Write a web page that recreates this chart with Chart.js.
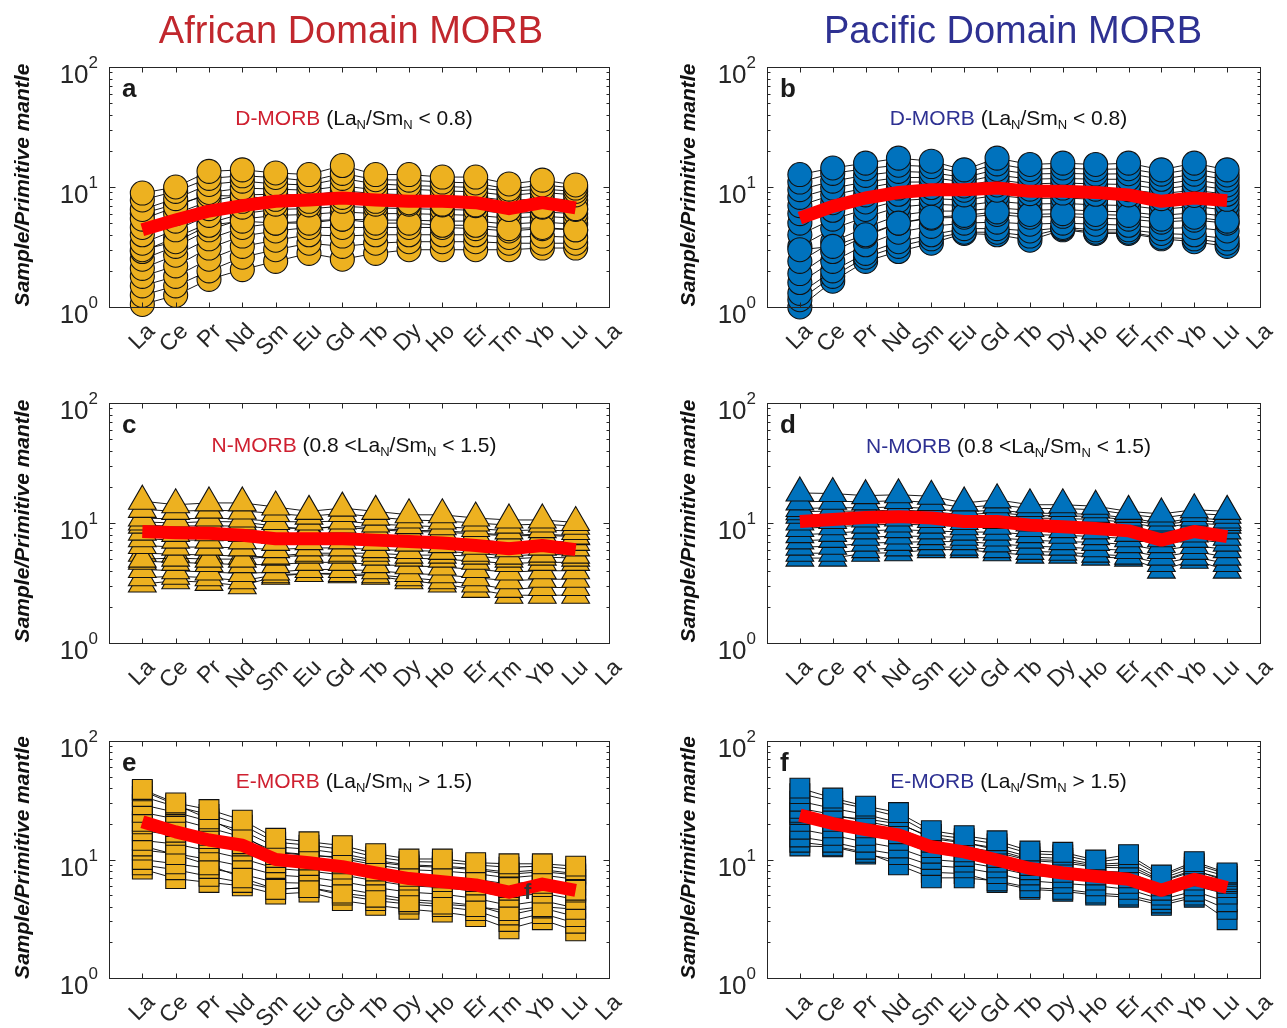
<!DOCTYPE html>
<html>
<head>
<meta charset="utf-8">
<script src="https://cdn.jsdelivr.net/npm/chart.js@4.4.1/dist/chart.umd.min.js"></script>
<style>
  body { margin: 0; background: #fff; }
  canvas { position: absolute; }
</style>
</head>
<body>
<canvas id="pa" width="640" height="380" style="left:0;top:0"></canvas>
<canvas id="pb" width="647" height="380" style="left:640px;top:0"></canvas>
<canvas id="pc" width="640" height="340" style="left:0;top:380px"></canvas>
<canvas id="pd" width="647" height="340" style="left:640px;top:380px"></canvas>
<canvas id="pe" width="640" height="308" style="left:0;top:720px"></canvas>
<canvas id="pf" width="647" height="308" style="left:640px;top:720px"></canvas>
<script>
// REE order, plus the repeated La at the right edge of each axis
const elements = ['La', 'Ce', 'Pr', 'Nd', 'Sm', 'Eu', 'Gd', 'Tb', 'Dy', 'Ho', 'Er', 'Tm', 'Yb', 'Lu'];
const xTickLabels = ['La', 'Ce', 'Pr', 'Nd', 'Sm', 'Eu', 'Gd', 'Tb', 'Dy', 'Ho', 'Er', 'Tm', 'Yb', 'Lu', 'La'];
const yTicks = [1, 10, 100];
const yTickExponents = ['0', '1', '2'];
const yMinorTicks = [2, 3, 4, 5, 6, 7, 8, 9, 20, 30, 40, 50, 60, 70, 80, 90];

// averages (red lines)
const africaDMean = [4.4, 5.3, 6.3, 7.0, 7.6, 7.8, 8.1, 7.8, 7.6, 7.6, 7.4, 6.6, 7.4, 6.7];
const pacificDMean = [5.5, 6.9, 8.1, 9.0, 9.5, 9.5, 9.8, 9.2, 9.2, 9.0, 8.6, 7.6, 8.1, 7.7];
const africaNMean = [8.5, 8.3, 8.2, 7.9, 7.4, 7.4, 7.4, 7.2, 7.0, 6.8, 6.5, 6.1, 6.5, 6.0];
const pacificNMean = [10.3, 10.7, 11.1, 11.3, 11.0, 10.3, 10.3, 9.6, 9.3, 9.0, 8.6, 7.2, 8.5, 7.7];
const africaEMean = [20.8, 17.1, 14.6, 13.2, 10.0, 9.4, 8.7, 7.7, 6.9, 6.5, 6.1, 5.3, 6.2, 5.5];
const pacificEMean = [23.7, 20.1, 17.9, 16.1, 12.8, 11.6, 9.9, 8.4, 7.7, 7.2, 6.8, 5.5, 6.8, 5.8];

// individual samples
const africaDSamples = [
  [8.9, 10.0, 13.5, 13.9, 13.1, 12.7, 15.1, 12.7, 12.7, 12.1, 12.1, 10.6, 11.4, 10.4],
  [7.8, 9.2, 11.8, 12.4, 12.0, 11.2, 13.0, 11.5, 11.4, 11.0, 10.8, 9.6, 10.4, 9.8],
  [6.5, 8.0, 10.5, 11.2, 10.6, 10.4, 11.8, 10.6, 10.3, 10.1, 9.9, 9.2, 9.6, 9.2],
  [5.4, 6.8, 9.0, 9.8, 9.6, 9.4, 10.2, 9.5, 9.6, 9.3, 9.1, 8.5, 9.0, 8.6],
  [6.0, 7.2, 8.5, 8.4, 7.9, 7.6, 8.2, 7.6, 7.4, 7.2, 7.1, 6.5, 6.9, 6.6],
  [4.6, 6.0, 7.6, 8.6, 8.7, 8.5, 9.3, 8.8, 8.6, 8.4, 8.3, 7.7, 8.0, 7.8],
  [4.0, 5.2, 6.6, 7.6, 8.0, 7.9, 8.4, 8.0, 7.9, 7.8, 7.6, 7.0, 7.4, 7.1],
  [3.4, 4.4, 5.8, 6.8, 7.2, 7.1, 7.6, 7.2, 7.2, 7.1, 7.0, 6.5, 6.8, 6.5],
  [3.0, 3.5, 4.8, 5.2, 5.0, 5.0, 5.4, 5.0, 5.0, 4.8, 4.8, 4.5, 4.6, 4.4],
  [2.9, 3.8, 5.0, 6.0, 6.5, 6.6, 6.9, 6.7, 6.6, 6.5, 6.4, 6.0, 6.2, 6.0],
  [2.5, 3.2, 4.4, 5.4, 5.8, 5.9, 6.2, 6.0, 6.0, 5.9, 5.8, 5.5, 5.7, 5.5],
  [2.1, 2.7, 3.7, 4.6, 5.0, 5.2, 5.4, 5.3, 5.3, 5.2, 5.2, 4.9, 5.1, 4.9],
  [1.8, 2.2, 3.1, 3.9, 4.3, 4.6, 4.6, 4.6, 4.6, 4.6, 4.5, 4.3, 4.5, 4.4],
  [1.5, 1.8, 2.5, 3.2, 3.6, 4.0, 3.9, 4.0, 4.0, 4.0, 4.0, 3.8, 3.9, 3.8],
  [1.25, 1.5, 2.0, 2.6, 3.0, 3.4, 3.2, 3.4, 3.5, 3.5, 3.5, 3.4, 3.4, 3.4],
  [1.05, 1.25, 1.7, 2.05, 2.4, 2.8, 2.5, 2.8, 3.0, 3.0, 3.0, 3.0, 3.1, 3.1]
];
const pacificDSamples = [
  [12.7, 14.4, 15.8, 17.4, 16.4, 13.9, 17.4, 15.4, 15.8, 15.4, 15.8, 13.9, 15.8, 13.9],
  [11.0, 13.0, 14.2, 15.2, 14.8, 13.0, 15.6, 14.0, 14.4, 14.0, 14.2, 12.8, 14.2, 12.6],
  [9.5, 11.2, 12.5, 13.5, 13.2, 12.0, 14.0, 12.8, 13.0, 12.8, 12.9, 11.6, 12.8, 11.5],
  [8.2, 9.8, 11.0, 12.0, 12.0, 11.0, 12.6, 11.6, 11.8, 11.6, 11.6, 10.5, 11.5, 10.4],
  [7.0, 8.6, 9.8, 11.0, 11.0, 10.2, 11.5, 10.6, 10.8, 10.6, 10.5, 9.6, 10.4, 9.5],
  [6.0, 7.4, 8.6, 9.8, 9.9, 9.4, 10.4, 9.6, 9.8, 9.6, 9.5, 8.8, 9.4, 8.7],
  [5.0, 6.4, 7.5, 8.7, 8.9, 8.6, 9.4, 8.8, 8.9, 8.7, 8.6, 8.0, 8.5, 7.9],
  [3.0, 3.2, 4.0, 5.0, 5.6, 5.8, 6.2, 5.9, 6.0, 5.9, 5.8, 5.4, 5.6, 5.2],
  [4.0, 5.4, 6.5, 7.7, 8.0, 7.8, 8.5, 8.0, 8.1, 7.9, 7.8, 7.3, 7.7, 7.1],
  [3.2, 4.5, 5.6, 6.8, 7.2, 7.0, 7.6, 7.2, 7.3, 7.1, 7.0, 6.5, 6.9, 6.4],
  [2.4, 3.5, 4.6, 5.8, 6.3, 6.3, 6.7, 6.4, 6.5, 6.3, 6.2, 5.8, 6.1, 5.7],
  [1.9, 2.9, 3.9, 5.0, 5.5, 5.6, 5.9, 5.6, 5.7, 5.5, 5.4, 5.1, 5.3, 5.0],
  [1.6, 2.4, 3.3, 4.2, 4.7, 5.0, 5.1, 4.9, 5.0, 4.9, 4.8, 4.5, 4.6, 4.3],
  [1.3, 2.0, 2.8, 3.5, 4.0, 4.5, 4.5, 4.3, 4.6, 4.4, 4.4, 4.1, 4.0, 3.7],
  [1.15, 1.8, 2.6, 3.2, 3.7, 4.2, 4.2, 3.9, 4.5, 4.2, 4.2, 3.8, 3.7, 3.4],
  [1.0, 1.64, 2.4, 2.9, 3.4, 4.1, 4.0, 3.6, 4.4, 4.1, 4.1, 3.7, 3.5, 3.2]
];
const africaNSamples = [
  [15.2, 14.2, 14.7, 14.7, 13.6, 12.5, 13.3, 12.5, 11.7, 11.7, 11.0, 10.6, 10.6, 10.1],
  [13.0, 12.5, 12.8, 12.6, 12.0, 11.4, 12.0, 11.2, 10.6, 10.4, 10.0, 9.6, 9.8, 9.4],
  [11.0, 10.8, 11.0, 10.8, 10.3, 10.2, 10.4, 9.8, 9.5, 9.3, 9.0, 8.6, 8.8, 8.5],
  [10.2, 10.0, 10.3, 10.2, 9.4, 8.8, 9.6, 9.0, 8.7, 8.6, 8.3, 7.9, 8.1, 7.8],
  [9.6, 9.4, 9.5, 9.4, 9.0, 9.1, 9.2, 8.8, 8.5, 8.4, 8.1, 7.8, 7.9, 7.7],
  [8.4, 8.2, 8.3, 8.2, 7.9, 8.0, 8.1, 7.8, 7.6, 7.5, 7.2, 6.9, 7.1, 6.9],
  [7.4, 7.2, 7.2, 7.1, 6.9, 7.0, 7.1, 6.9, 6.8, 6.6, 6.4, 6.1, 6.3, 6.2],
  [6.5, 6.3, 6.3, 6.2, 6.0, 6.2, 6.2, 6.0, 5.9, 5.8, 5.6, 5.3, 5.5, 5.4],
  [5.0, 5.1, 5.0, 5.0, 5.3, 5.6, 5.6, 5.6, 5.4, 5.4, 5.3, 5.0, 5.2, 5.1],
  [5.6, 5.5, 5.4, 5.3, 5.2, 5.4, 5.4, 5.2, 5.1, 5.0, 4.8, 4.6, 4.7, 4.7],
  [4.8, 4.7, 4.6, 4.5, 4.5, 4.7, 4.7, 4.5, 4.4, 4.3, 4.1, 3.9, 4.0, 4.0],
  [4.1, 4.0, 3.9, 3.8, 3.9, 4.1, 4.1, 4.0, 3.8, 3.7, 3.5, 3.3, 3.4, 3.4],
  [3.5, 3.6, 3.5, 3.3, 3.7, 3.8, 3.8, 3.7, 3.5, 3.3, 3.1, 2.8, 2.9, 2.9],
  [3.1, 3.3, 3.2, 3.0, 3.6, 3.8, 3.7, 3.6, 3.3, 3.1, 2.8, 2.5, 2.5, 2.5]
];
const pacificNSamples = [
  [17.8, 17.6, 16.9, 17.2, 16.7, 14.7, 15.6, 14.2, 14.2, 13.8, 12.5, 11.9, 12.9, 12.5],
  [15.0, 15.2, 15.0, 15.4, 14.8, 13.4, 14.2, 13.2, 13.2, 12.9, 11.8, 11.0, 12.0, 11.6],
  [13.2, 13.4, 13.4, 13.6, 13.2, 12.4, 12.8, 12.1, 12.0, 11.8, 11.0, 10.0, 11.0, 10.6],
  [12.4, 12.6, 12.5, 12.9, 12.4, 11.7, 12.2, 11.5, 11.5, 11.3, 10.6, 9.6, 10.5, 10.1],
  [11.6, 11.8, 12.0, 12.2, 11.8, 11.3, 11.6, 11.0, 10.9, 10.7, 10.1, 9.1, 10.0, 9.6],
  [10.2, 10.5, 10.8, 11.0, 10.7, 10.3, 10.5, 10.0, 9.8, 9.6, 9.2, 8.3, 9.0, 8.6],
  [9.0, 9.3, 9.6, 9.8, 9.6, 9.3, 9.4, 9.0, 8.8, 8.6, 8.2, 7.4, 8.1, 7.6],
  [8.0, 8.2, 8.6, 8.8, 8.6, 8.4, 8.4, 8.0, 7.9, 7.7, 7.4, 6.6, 7.3, 6.8],
  [7.1, 7.3, 7.6, 7.8, 7.7, 7.6, 7.5, 7.2, 7.0, 6.9, 6.6, 5.9, 6.5, 6.0],
  [6.3, 6.4, 6.8, 6.9, 7.0, 7.0, 6.7, 6.4, 6.3, 6.1, 5.9, 5.2, 5.8, 5.2],
  [5.6, 5.6, 6.0, 6.2, 6.3, 6.3, 6.0, 5.8, 5.7, 5.5, 5.3, 4.6, 5.2, 4.6],
  [5.1, 5.1, 5.6, 5.65, 6.0, 6.0, 5.65, 5.4, 5.4, 5.2, 5.1, 4.05, 4.9, 4.05]
];
const africaESamples = [
  [39, 30, 26.4, 21.5, 15.1, 14.1, 13.1, 11.2, 10.1, 10.1, 9.4, 9.2, 9.2, 8.8],
  [38, 29, 22, 16, 11.0, 10.5, 9.5, 8.0, 7.2, 7.0, 6.5, 5.8, 6.3, 5.5],
  [34, 28, 24, 19.5, 14.0, 13.2, 12.2, 10.5, 9.6, 9.5, 9.0, 8.6, 8.8, 8.2],
  [29, 25, 21, 17.5, 12.8, 12.2, 11.2, 9.8, 9.0, 8.8, 8.4, 7.8, 8.2, 7.6],
  [25, 22, 18.5, 15.5, 11.6, 11.0, 10.2, 9.0, 8.2, 8.0, 7.6, 7.0, 7.4, 6.8],
  [21, 19, 16.0, 13.6, 10.4, 9.9, 9.2, 8.2, 7.4, 7.2, 6.8, 6.2, 6.6, 6.0],
  [20, 17, 15, 13.0, 11.5, 10.8, 10.5, 9.5, 8.8, 8.6, 8.2, 7.5, 7.9, 7.4],
  [17.5, 16, 13.8, 11.8, 9.4, 8.9, 8.3, 7.4, 6.7, 6.5, 6.1, 5.5, 5.9, 5.3],
  [14.5, 13.5, 11.8, 10.2, 8.4, 8.0, 7.4, 6.6, 6.0, 5.8, 5.4, 4.8, 5.2, 4.6],
  [13.0, 11.0, 9.0, 7.0, 5.6, 5.8, 5.2, 4.8, 4.4, 4.2, 4.0, 3.7, 4.0, 3.8],
  [12.0, 11.2, 10.0, 8.8, 7.4, 7.1, 6.5, 5.8, 5.3, 5.1, 4.7, 4.1, 4.5, 3.9],
  [10.0, 9.2, 8.4, 7.5, 6.4, 6.3, 5.7, 5.1, 4.6, 4.4, 4.1, 3.4, 3.9, 3.3],
  [9.0, 8.2, 7.2, 6.4, 5.6, 5.8, 5.0, 4.5, 4.2, 4.0, 3.7, 3.0, 3.5, 2.9],
  [8.3, 6.9, 6.4, 6.0, 5.1, 5.3, 4.5, 4.1, 3.8, 3.6, 3.3, 2.6, 3.1, 2.5]
];
const pacificESamples = [
  [40, 33, 28.2, 24.9, 17.5, 15.9, 14.4, 11.8, 11.5, 9.9, 11.0, 7.4, 9.6, 7.7],
  [36, 31, 27, 23, 16.3, 15.0, 13.5, 11.2, 10.9, 9.5, 10.3, 7.2, 9.2, 7.5],
  [31, 27, 24, 20.5, 15.0, 13.8, 12.5, 10.5, 10.2, 9.1, 9.4, 6.9, 8.6, 7.2],
  [27, 24, 21, 18.5, 14.0, 12.8, 11.5, 9.8, 9.4, 8.6, 8.5, 6.5, 8.0, 6.8],
  [25, 23, 22, 20, 15.5, 14.0, 12.0, 10.0, 9.8, 8.8, 9.0, 6.6, 8.2, 6.5],
  [24, 21, 18.5, 16.5, 12.6, 11.6, 10.4, 8.9, 8.6, 8.0, 7.8, 6.0, 7.3, 6.3],
  [21, 18.5, 16.0, 14.5, 11.3, 10.6, 9.5, 8.2, 7.8, 7.4, 7.0, 5.5, 6.7, 5.8],
  [18, 16, 14.0, 12.5, 10.0, 9.5, 8.5, 7.4, 7.0, 6.7, 6.3, 5.0, 6.0, 5.1],
  [15.5, 14, 12.2, 11.0, 8.9, 8.5, 7.6, 6.6, 6.3, 6.0, 5.6, 4.6, 5.4, 4.4],
  [14, 13, 11.5, 9.0, 7.0, 7.0, 6.6, 5.8, 5.6, 5.2, 5.0, 4.3, 5.0, 3.8],
  [13, 12.8, 11.1, 9.8, 7.8, 7.6, 6.4, 5.6, 5.4, 5.0, 4.8, 4.1, 4.8, 3.1]
];

const font = '"Liberation Sans", Arial, Helvetica, sans-serif';
const axisColor = '#262626';
const gold = '#EDB120';
const blue = '#0072BD';
const africaRed = '#C1272D';
const pacificBlue = '#2E3192';

function toPoints(vals) {
  return vals.map((v, i) => ({ x: i, y: v }));
}

function drawRich(ctx, pieces, cx, baseline) {
  let total = 0;
  pieces.forEach(p => {
    ctx.font = (p.sub ? '13px ' : '21px ') + font;
    p.w = ctx.measureText(p.t).width;
    total += p.w;
  });
  let px = cx - total / 2;
  ctx.textAlign = 'left';
  ctx.textBaseline = 'alphabetic';
  pieces.forEach(p => {
    ctx.font = (p.sub ? '13px ' : '21px ') + font;
    ctx.fillStyle = p.c || '#111';
    ctx.fillText(p.t, px, baseline + (p.sub ? 4 : 0));
    px += p.w;
  });
}

function makePanel(id, cfg) {
  const deco = {
    id: 'deco',
    afterDatasetsDraw(chart) {
      const { ctx, chartArea: a, scales: { x, y } } = chart;
      ctx.save();

      // box + inward ticks
      ctx.strokeStyle = axisColor;
      ctx.lineWidth = 1;
      const l = Math.round(a.left) + 0.5, r = Math.round(a.right) + 0.5;
      const t = Math.round(a.top) + 0.5, b = Math.round(a.bottom) + 0.5;
      ctx.strokeRect(l, t, r - l, b - t);
      ctx.beginPath();
      yMinorTicks.forEach(v => {
        const py = Math.round(y.getPixelForValue(v)) + 0.5;
        ctx.moveTo(l, py); ctx.lineTo(l + 3, py);
        ctx.moveTo(r, py); ctx.lineTo(r - 3, py);
      });
      yTicks.forEach(v => {
        const py = Math.round(y.getPixelForValue(v)) + 0.5;
        ctx.moveTo(l, py); ctx.lineTo(l + 6, py);
        ctx.moveTo(r, py); ctx.lineTo(r - 6, py);
      });
      elements.forEach((e, i) => {
        const px = Math.round(x.getPixelForValue(i)) + 0.5;
        ctx.moveTo(px, b); ctx.lineTo(px, b - 5);
        ctx.moveTo(px, t); ctx.lineTo(px, t + 5);
      });
      ctx.stroke();

      // y tick labels 10^n
      ctx.fillStyle = axisColor;
      ctx.textAlign = 'right';
      ctx.textBaseline = 'alphabetic';
      yTicks.forEach((v, k) => {
        const py = y.getPixelForValue(v);
        ctx.font = '17px ' + font;
        ctx.fillText(yTickExponents[k], a.left - 11, py + 1);
        const ew = ctx.measureText(yTickExponents[k]).width;
        ctx.font = '26px ' + font;
        ctx.fillText('10', a.left - 11 - ew, py + 16);
      });

      // rotated element labels
      ctx.font = '23px ' + font;
      ctx.textAlign = 'right';
      ctx.textBaseline = 'middle';
      xTickLabels.forEach((lab, i) => {
        const px = x.getPixelForValue(i);
        ctx.save();
        ctx.translate(px + 9, a.bottom + 21);
        ctx.rotate(-Math.PI / 4);
        ctx.fillText(lab, 0, 0);
        ctx.restore();
      });

      // y axis title
      ctx.save();
      ctx.translate(cfg.yTitleX, (a.top + a.bottom) / 2 - 2);
      ctx.rotate(-Math.PI / 2);
      ctx.textAlign = 'center';
      ctx.textBaseline = 'middle';
      ctx.font = 'italic bold 21px ' + font;
      ctx.fillStyle = '#111';
      ctx.fillText('Sample/Primitive mantle', 0, 0);
      ctx.restore();

      // panel letter
      ctx.font = 'bold 26px ' + font;
      ctx.fillStyle = '#1a1a1a';
      ctx.textAlign = 'left';
      ctx.textBaseline = 'alphabetic';
      ctx.fillText(cfg.letter, a.left + 13, a.top + 30);

      // subtitle
      drawRich(ctx, cfg.subtitle, (a.left + a.right) / 2 - 5, cfg.subBaseline);

      // column header
      if (cfg.header) {
        ctx.font = '38px ' + font;
        ctx.fillStyle = cfg.header.color;
        ctx.textAlign = 'center';
        ctx.textBaseline = 'alphabetic';
        ctx.fillText(cfg.header.text, cfg.header.x, 43);
      }
      if (cfg.extra) {
        ctx.font = 'bold 22px ' + font;
        ctx.fillStyle = '#333';
        ctx.textAlign = 'left';
        ctx.fillText(cfg.extra.text, cfg.extra.x, cfg.extra.y);
      }
      ctx.restore();
    }
  };

  const datasets = [{
    data: toPoints(cfg.mean),
    borderColor: '#FF0000',
    borderWidth: 13,
    borderJoinStyle: 'round',
    pointRadius: 0,
    clip: false
  }];
  cfg.samples.forEach(s => {
    datasets.push({
      data: toPoints(s),
      borderColor: '#000',
      borderWidth: 0.9,
      pointStyle: cfg.marker,
      pointRadius: cfg.markerSize,
      pointBackgroundColor: cfg.fill,
      pointBorderColor: '#111',
      pointBorderWidth: 1.1,
      clip: false
    });
  });

  return new Chart(document.getElementById(id), {
    type: 'line',
    data: { datasets },
    options: {
      responsive: false,
      animation: false,
      events: [],
      layout: { padding: cfg.padding },
      plugins: { legend: { display: false }, tooltip: { enabled: false } },
      scales: {
        x: { type: 'linear', min: -1, max: 14, display: false },
        y: { type: 'logarithmic', min: 1, max: 100, display: false }
      }
    },
    plugins: [deco]
  });
}

const padLeftCol = { left: 109, right: 31 };
const padRightCol = { left: 127, right: 27 };

function subPieces(name, color, pre, post) {
  return [
    { t: name + ' ', c: color },
    { t: pre + 'La' },
    { t: 'N', sub: true },
    { t: '/Sm' },
    { t: 'N', sub: true },
    { t: post }
  ];
}

makePanel('pa', {
  letter: 'a', mean: africaDMean, samples: africaDSamples,
  marker: 'circle', markerSize: 12, fill: gold,
  padding: { ...padLeftCol, top: 67, bottom: 73 }, yTitleX: 23,
  subtitle: subPieces('D-MORB', '#CF2030', '(', ' < 0.8)'), subBaseline: 125,
  header: { text: 'African Domain MORB', color: africaRed, x: 351 }
});
makePanel('pb', {
  letter: 'b', mean: pacificDMean, samples: pacificDSamples,
  marker: 'circle', markerSize: 12, fill: blue,
  padding: { ...padRightCol, top: 67, bottom: 73 }, yTitleX: 49,
  subtitle: subPieces('D-MORB', pacificBlue, '(', ' < 0.8)'), subBaseline: 125,
  header: { text: 'Pacific Domain MORB', color: pacificBlue, x: 373 }
});
makePanel('pc', {
  letter: 'c', mean: africaNMean, samples: africaNSamples,
  marker: 'triangle', markerSize: 16, fill: gold,
  padding: { ...padLeftCol, top: 23, bottom: 77 }, yTitleX: 23,
  subtitle: subPieces('N-MORB', '#CF2030', '(0.8 <', ' < 1.5)'), subBaseline: 72
});
makePanel('pd', {
  letter: 'd', mean: pacificNMean, samples: pacificNSamples,
  marker: 'triangle', markerSize: 16, fill: blue,
  padding: { ...padRightCol, top: 23, bottom: 77 }, yTitleX: 49,
  subtitle: subPieces('N-MORB', pacificBlue, '(0.8 <', ' < 1.5)'), subBaseline: 73
});
makePanel('pe', {
  letter: 'e', mean: africaEMean, samples: africaESamples,
  marker: 'rect', markerSize: 14, fill: gold,
  padding: { ...padLeftCol, top: 21, bottom: 50 }, yTitleX: 23,
  subtitle: subPieces('E-MORB', '#CF2030', '(', ' > 1.5)'), subBaseline: 68,
  extra: { text: 'f', x: 524, y: 179 }
});
makePanel('pf', {
  letter: 'f', mean: pacificEMean, samples: pacificESamples,
  marker: 'rect', markerSize: 14, fill: blue,
  padding: { ...padRightCol, top: 21, bottom: 50 }, yTitleX: 49,
  subtitle: subPieces('E-MORB', pacificBlue, '(', ' > 1.5)'), subBaseline: 68
});
</script>
</body>
</html>
